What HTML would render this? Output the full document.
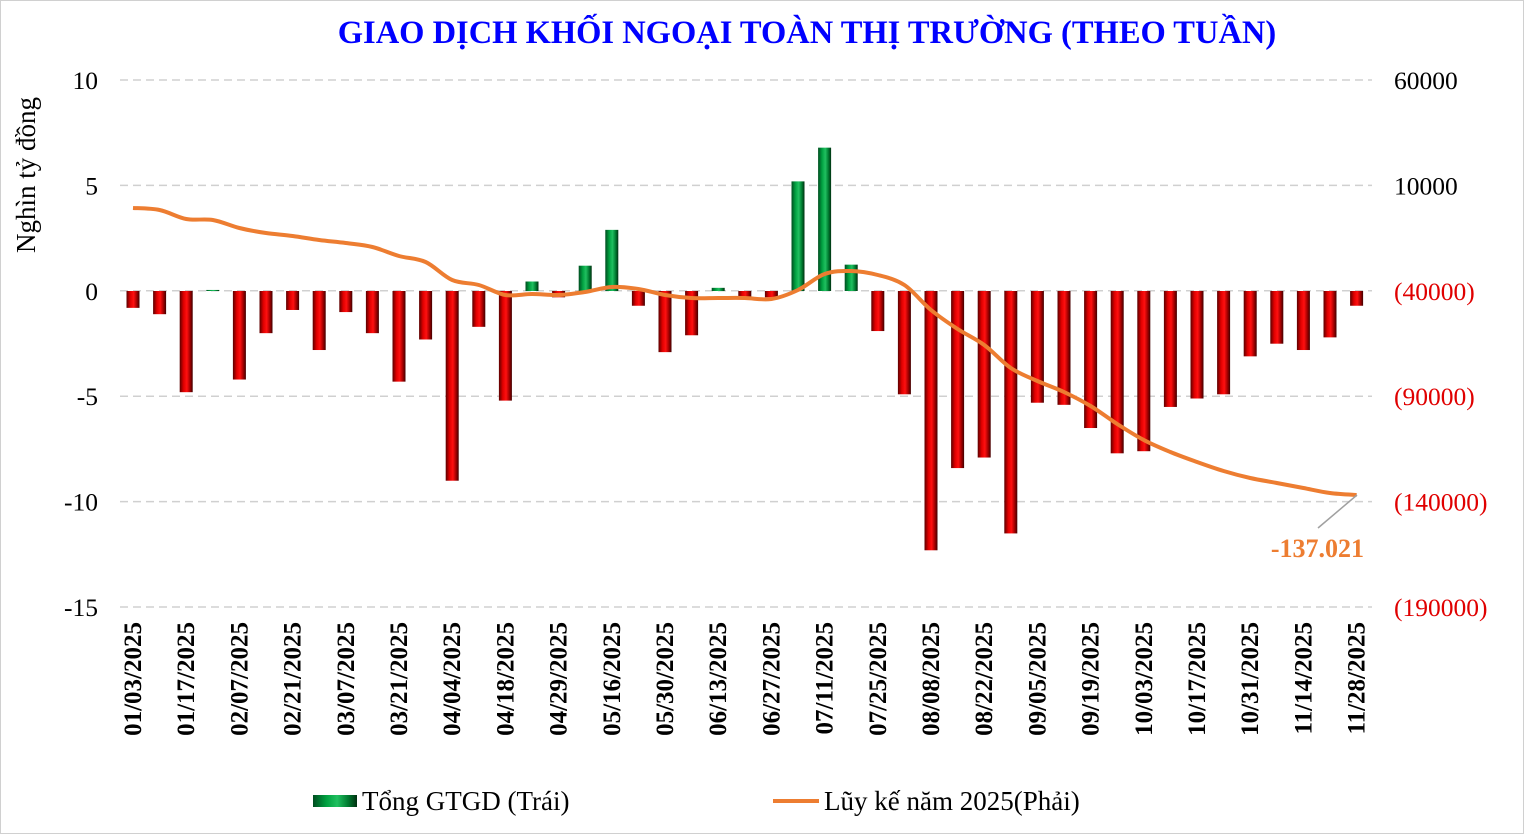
<!DOCTYPE html>
<html><head><meta charset="utf-8"><style>
html,body{margin:0;padding:0;background:#fff}
svg{display:block}
text{font-family:"Liberation Serif",serif}
</style></head><body>
<svg id="s" width="1524" height="840" xmlns="http://www.w3.org/2000/svg">
<defs>
<linearGradient id="r" x1="0" x2="1" y1="0" y2="0">
<stop offset="0" stop-color="#5a0000"/><stop offset="0.3" stop-color="#e00000"/><stop offset="0.55" stop-color="#ff1010"/><stop offset="0.8" stop-color="#a00000"/><stop offset="1" stop-color="#400000"/>
</linearGradient>
<linearGradient id="g" x1="0" x2="1" y1="0" y2="0">
<stop offset="0" stop-color="#004d20"/><stop offset="0.3" stop-color="#00a040"/><stop offset="0.55" stop-color="#20c060"/><stop offset="0.8" stop-color="#007a30"/><stop offset="1" stop-color="#003010"/>
</linearGradient>
</defs>
<rect x="0.5" y="0.5" width="1523" height="833" fill="#fff" stroke="#d0d0d0"/>
<text x="807" y="43" text-anchor="middle" font-size="32.5" font-weight="bold" fill="#0000ff">GIAO DỊCH KHỐI NGOẠI TOÀN THỊ TRƯỜNG (THEO TUẦN)</text>
<g id="grid" stroke="#d0d0d0" stroke-width="1.5" stroke-dasharray="8,5"></g>
<g id="bars"></g>
<g id="lbl" font-size="25.5"></g>
<text transform="translate(35,175) rotate(-90)" text-anchor="middle" font-size="27">Nghìn tỷ đồng</text>
<path id="ln" fill="none" stroke="#ed7d31" stroke-width="4" stroke-linejoin="round"/>
<line x1="1357" y1="495" x2="1318" y2="528" stroke="#a0a0a0" stroke-width="1.5"/>
<text x="1364" y="557" text-anchor="end" font-size="26" font-weight="bold" fill="#ed7d31">-137.021</text>
<g id="xl" font-size="25" font-weight="bold"></g>
<rect x="313" y="795" width="44" height="12" fill="url(#g)"/>
<text x="362" y="810" font-size="27">Tổng GTGD (Trái)</text>
<line x1="773" y1="801" x2="819" y2="801" stroke="#ed7d31" stroke-width="4"/>
<text x="824" y="810" font-size="27">Lũy kế năm 2025(Phải)</text>
</svg>
<script>
var NS="http://www.w3.org/2000/svg";
function el(p,t,a,txt){var e=document.createElementNS(NS,t);for(var k in a)e.setAttribute(k,a[k]);if(txt!=null)e.textContent=txt;document.getElementById(p).appendChild(e);return e;}
var L=[10,5,0,-5,-10,-15],R=["60000","10000","(40000)","(90000)","(140000)","(190000)"];
for(var i=0;i<6;i++){var y=80+i*105.4;el("grid","line",{x1:120,x2:1372,y1:y,y2:y});
el("lbl","text",{x:98,y:y+9,"text-anchor":"end"},L[i]);
el("lbl","text",{x:1394,y:y+9,fill:i>=2?"#e00000":"#000"},R[i]);}
var v=[-0.8,-1.1,-4.8,0.05,-4.2,-2.0,-0.9,-2.8,-1.0,-2.0,-4.3,-2.3,-9.0,-1.7,-5.2,0.45,-0.3,1.2,2.9,-0.7,-2.9,-2.1,0.15,-0.3,-0.3,5.2,6.8,1.25,-1.9,-4.9,-12.3,-8.4,-7.9,-11.5,-5.3,-5.4,-6.5,-7.7,-7.6,-5.5,-5.1,-4.9,-3.1,-2.5,-2.8,-2.2,-0.7];
var ly=[208,210,219,220,228,233,236,240,243,247,256,262,280,285,295,294,295,292,287,289,295,298,298,298,299,290,274,271,275,285,310,329,345,368,381,392,406,424,440,452,462,471,478,483,488,493,495];
var P=[];
for(var i=0;i<47;i++){var x=133+26.6*i,h=v[i]*21.08,y0=291;
el("bars","rect",{x:x-6.5,width:13,y:h>0?y0-h:y0,height:Math.max(Math.abs(h),1),fill:h>0?"url(#g)":"url(#r)"});
P.push([x,ly[i]]);}
var d="M"+P[0][0]+","+P[0][1];
for(var i=0;i<P.length-1;i++){var p0=P[Math.max(i-1,0)],p1=P[i],p2=P[i+1],p3=P[Math.min(i+2,P.length-1)];
d+=" C"+(p1[0]+(p2[0]-p0[0])/6).toFixed(1)+","+(p1[1]+(p2[1]-p0[1])/6).toFixed(1)+" "+(p2[0]-(p3[0]-p1[0])/6).toFixed(1)+","+(p2[1]-(p3[1]-p1[1])/6).toFixed(1)+" "+p2[0].toFixed(1)+","+p2[1];}
document.getElementById("ln").setAttribute("d",d);
var dd=["01/03/2025","01/17/2025","02/07/2025","02/21/2025","03/07/2025","03/21/2025","04/04/2025","04/18/2025","04/29/2025","05/16/2025","05/30/2025","06/13/2025","06/27/2025","07/11/2025","07/25/2025","08/08/2025","08/22/2025","09/05/2025","09/19/2025","10/03/2025","10/17/2025","10/31/2025","11/14/2025","11/28/2025"];
for(var j=0;j<24;j++){var x=133+26.6*2*j+8;el("xl","text",{transform:"translate("+x+",622) rotate(-90)","text-anchor":"end"},dd[j]);}
</script>
</body></html>
